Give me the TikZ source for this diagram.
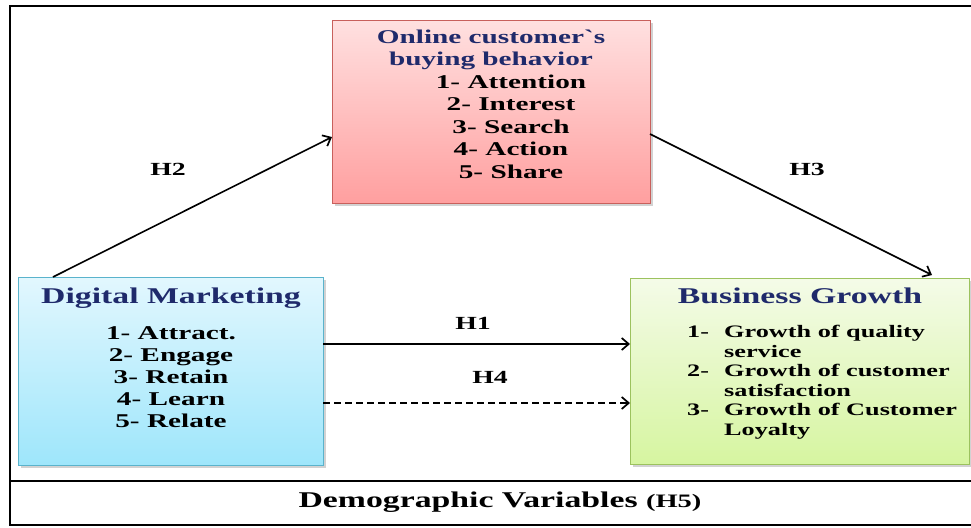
\documentclass[tikz,border=0pt]{standalone}
\usepackage{fontspec}
\setmainfont{Liberation Serif}[FakeStretch=1.5]
\usetikzlibrary{arrows.meta,shadows}
\definecolor{navy}{HTML}{1F2A6B}
\definecolor{pinktop}{HTML}{FFE0E0}
\definecolor{pinkbot}{HTML}{FF9F9F}
\definecolor{pinkline}{HTML}{C8605C}
\definecolor{bluetop}{HTML}{E2F7FE}
\definecolor{bluebot}{HTML}{9EE6FB}
\definecolor{blueline}{HTML}{5AB3CC}
\definecolor{greentop}{HTML}{F4FBE8}
\definecolor{greenbot}{HTML}{D6F5A0}
\definecolor{greenline}{HTML}{9CC25E}
\begin{document}
\begin{tikzpicture}[x=1pt,y=-1pt,
  box/.style={draw, line width=1.2pt, inner sep=0pt, anchor=north west,
    drop shadow={shadow xshift=2pt, shadow yshift=-2pt, opacity=0.35}},
  pinkbox/.style={box, draw=pinkline, top color=pinktop, bottom color=pinkbot},
  bluebox/.style={box, draw=blueline, top color=bluetop, bottom color=bluebot},
  greenbox/.style={box, draw=greenline, top color=greentop, bottom color=greenbot},
  ttl/.style={font=\fontsize{22.5}{24}\selectfont\bfseries, text=navy, inner sep=0pt, anchor=base},
  items/.style={inner sep=0pt, align=center, font=\fontsize{19.5}{22.5}\selectfont\bfseries},
  hlab/.style={inner sep=0pt, anchor=base, font=\fontsize{18.5}{20}\selectfont\bfseries},
  arr/.style={line width=1.6pt, -{Straight Barb[length=7pt,width=12pt,line width=1.7pt]}},
  frame/.style={line width=2pt}
]
\useasboundingbox (0,0) rectangle (971,527);
\fill[white] (0,0) rectangle (971,527);

% frame
\draw[frame] (971,6) -- (10,6) -- (10,525) -- (971,525);
\draw[frame] (10,481) -- (971,481);

% boxes
\node[pinkbox, minimum width=318pt, minimum height=183pt] (ocb) at (332,20) {};
\node[bluebox, minimum width=305pt, minimum height=188pt] (dm) at (18,277) {};
\node[greenbox, minimum width=339pt, minimum height=186pt] (bg) at (630,278) {};

% pink text
\node[items, anchor=north, text=navy, font=\fontsize{19.5}{22}\selectfont\bfseries] (ocbt) at (491,29.5)
  {Online customer{\addfontfeatures{Ligatures=TeXOff}\char"60}s\\buying behavior};
\node[items, anchor=north] (ocbi) at (491,74.5)
  {\hspace*{40pt}1- Attention\\\hspace*{40pt}2- Interest\\\hspace*{40pt}3- Search\\\hspace*{40pt}4- Action\\\hspace*{40pt}5- Share};

% blue text
\node[ttl] (dmt) at (171,303) {Digital Marketing};
\node[items, anchor=north, font=\fontsize{19.5}{22}\selectfont\bfseries] (dmi) at (171,326.5)
  {1- Attract.\\2- Engage\\3- Retain\\4- Learn\\5- Relate};

% green text
\node[ttl] (bgt) at (800,303) {Business Growth};
\node[inner sep=0pt, anchor=north west, align=left, font=\fontsize{17.5}{19.5}\selectfont\bfseries] (bgi) at (687,325)
  {\makebox[37pt][l]{1-}Growth of quality\\\hspace*{37pt}service\\
   \makebox[37pt][l]{2-}Growth of customer\\\hspace*{37pt}satisfaction\\
   \makebox[37pt][l]{3-}Growth of Customer\\\hspace*{37pt}Loyalty};

% connectors
\coordinate (h2s) at (53,277);
\coordinate (h2e) at (332,137);
\coordinate (h3s) at (650,134);
\coordinate (h3e) at (932,275);
\coordinate (h1s) at (323,344);
\coordinate (h1e) at (630,344);
\coordinate (h4s) at (323,403);
\coordinate (h4e) at (630,403);
\draw[arr] (h2s) -- (h2e);
\draw[arr] (h3s) -- (h3e);
\draw[arr] (h1s) -- (h1e);
\draw[arr, dash pattern=on 7pt off 4pt] (h4s) -- (h4e);

% labels
\node[hlab] (lh2) at (168,175) {H2};
\node[hlab] (lh3) at (807,175) {H3};
\node[hlab] (lh1) at (473,329) {H1};
\node[hlab] (lh4) at (490,383) {H4};

% bottom
\node[inner sep=0pt, anchor=base, font=\fontsize{22.5}{24}\selectfont\bfseries] (demo) at (500,507)
  {Demographic Variables {\fontsize{19}{20}\selectfont(H5)}};
\end{tikzpicture}
\end{document}
